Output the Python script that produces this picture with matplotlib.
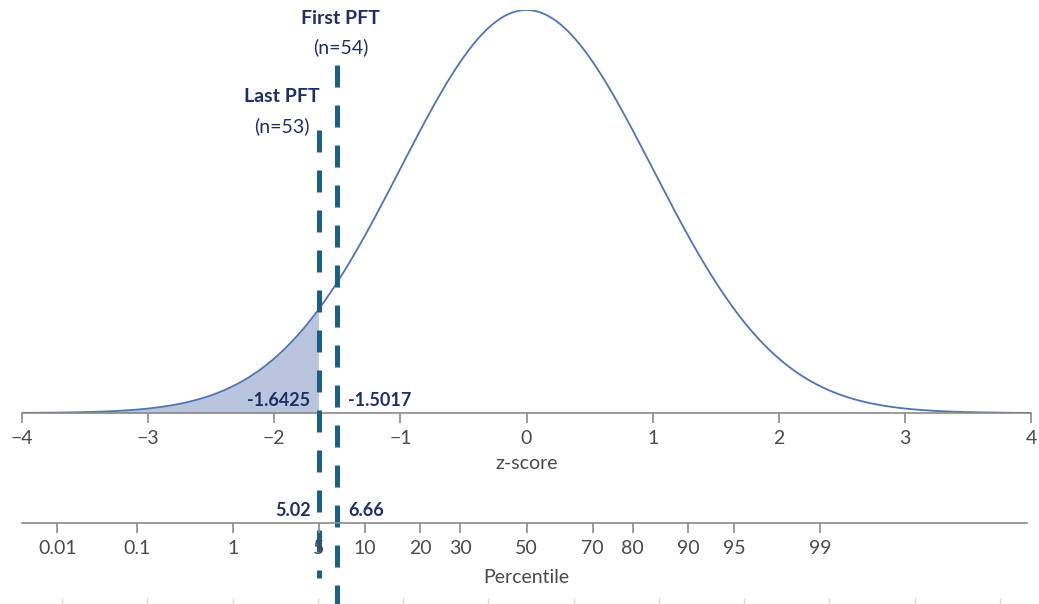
import numpy as np
import matplotlib
matplotlib.use("Agg")
import matplotlib.pyplot as plt
from matplotlib.transforms import blended_transform_factory
from statistics import NormalDist

plt.rcParams['font.family'] = ['Lato', 'DejaVu Sans']

# data
z_ticks = [-4, -3, -2, -1, 0, 1, 2, 3, 4]
pct_ticks = [0.01, 0.1, 1, 5, 10, 20, 30, 50, 70, 80, 90, 95, 99]
pft_names = ["Last PFT", "First PFT"]
pft_n = [53, 54]
pft_z = [-1.6425, -1.5017]
pft_pct = [5.02, 6.66]

nd = NormalDist()
z = np.linspace(-4, 4, 801)
pdf = np.exp(-z ** 2 / 2) / np.sqrt(2 * np.pi)

curve_col = "#4e74b4"
fill_col = "#b9c4de"
dash_col = "#1b5f82"
navy = "#1e2f63"
grey = "#4a4a4a"

W, H = 1039, 604
fig = plt.figure(figsize=(W / 100, H / 100), dpi=100)

def px_axes(x0, x1, ytop, ybot):
    return fig.add_axes([x0 / W, 1 - ybot / H, (x1 - x0) / W, (ybot - ytop) / H])

# main curve axes
ax = px_axes(22, 1031, 10, 413)
ax.plot(z, pdf, color=curve_col, lw=1.3)
mask = z <= pft_z[0]
ax.fill_between(z[mask], 0, pdf[mask], color=fill_col, lw=0)
ax.set_xlim(-4, 4)
ax.set_ylim(0, pdf.max())
for s in ["top", "right", "left"]:
    ax.spines[s].set_visible(False)
ax.spines["bottom"].set_color("#8a8a8a")
ax.spines["bottom"].set_linewidth(1.2)
ax.set_yticks([])
ax.set_xticks(z_ticks)
ax.set_xticklabels([f"{t}".replace("-", "\u2212") for t in z_ticks])
ax.tick_params(axis="x", colors="#8a8a8a", labelcolor=grey, labelsize=14,
               length=7, width=1.2, pad=5)
ax.set_xlabel("z-score", fontsize=14, color=grey, labelpad=6)
ax.patch.set_alpha(0)

# percentile axis
ax2 = px_axes(22, 1031, 440, 523)
ax2.set_xlim(-4, 4)
for s in ["top", "right", "left"]:
    ax2.spines[s].set_visible(False)
ax2.spines["bottom"].set_bounds(nd.inv_cdf(0.0001) - 0.28, 3.97)
ax2.spines["bottom"].set_color("#8a8a8a")
ax2.spines["bottom"].set_linewidth(1.2)
ax2.set_yticks([])
ax2.set_xticks([nd.inv_cdf(p / 100) for p in pct_ticks])
ax2.set_xticklabels([f"{p:g}" for p in pct_ticks])
ax2.tick_params(axis="x", colors="#8a8a8a", labelcolor=grey, labelsize=14,
                length=7, width=1.2, pad=5)
ax2.set_xlabel("Percentile", fontsize=14, color=grey, labelpad=9)
ax2.patch.set_alpha(0)

# faint ticks at bottom edge
ax3 = px_axes(62, 1000, 560, 604)
ax3.set_xlim(0, 11)
for s in ax3.spines.values():
    s.set_visible(False)
ax3.set_yticks([])
ax3.set_xticks(range(12))
ax3.set_xticklabels([])
ax3.tick_params(axis="x", direction="in", length=4, width=1, colors="#d8d8d8")
ax3.patch.set_alpha(0)

# dashed PFT lines spanning both axes
tr = blended_transform_factory(ax.transData, fig.transFigure)
tops = [1 - 130 / H, 1 - 65 / H]
bots = [1 - 578 / H, 0]
for zz, t, b in zip(pft_z, tops, bots):
    ax.plot([zz, zz], [t, b], transform=tr, color=dash_col, lw=3.6,
            dashes=(4.4, 3.6), clip_on=False, zorder=5)

# labels
lab_y = [1 - 97 / H, 1 - 18 / H]
for zz, name, n, ly in zip(pft_z, pft_names, pft_n, lab_y):
    xoff = -0.3 if name.startswith("Last") else 0.03
    ax.text(zz + xoff, ly, name, transform=tr, ha="center", va="center",
            fontsize=14, fontweight="bold", color=navy)
    ax.text(zz + xoff, ly - 29 / H, f"(n={n})", transform=tr, ha="center",
            va="center", fontsize=14, color=navy)

ax.text(pft_z[0] - 0.07, 1 - 400 / H, f"{pft_z[0]:.4f}", transform=tr,
        ha="right", va="center", fontsize=13, fontweight="bold", color=navy)
ax.text(pft_z[1] + 0.09, 1 - 400 / H, f"{pft_z[1]:.4f}", transform=tr,
        ha="left", va="center", fontsize=13, fontweight="bold", color=navy)
ax.text(pft_z[0] - 0.07, 1 - 510 / H, f"{pft_pct[0]:.2f}", transform=tr,
        ha="right", va="center", fontsize=13, fontweight="bold", color=navy)
ax.text(pft_z[1] + 0.09, 1 - 510 / H, f"{pft_pct[1]:.2f}", transform=tr,
        ha="left", va="center", fontsize=13, fontweight="bold", color=navy)

fig.savefig("out.png", dpi=100)
